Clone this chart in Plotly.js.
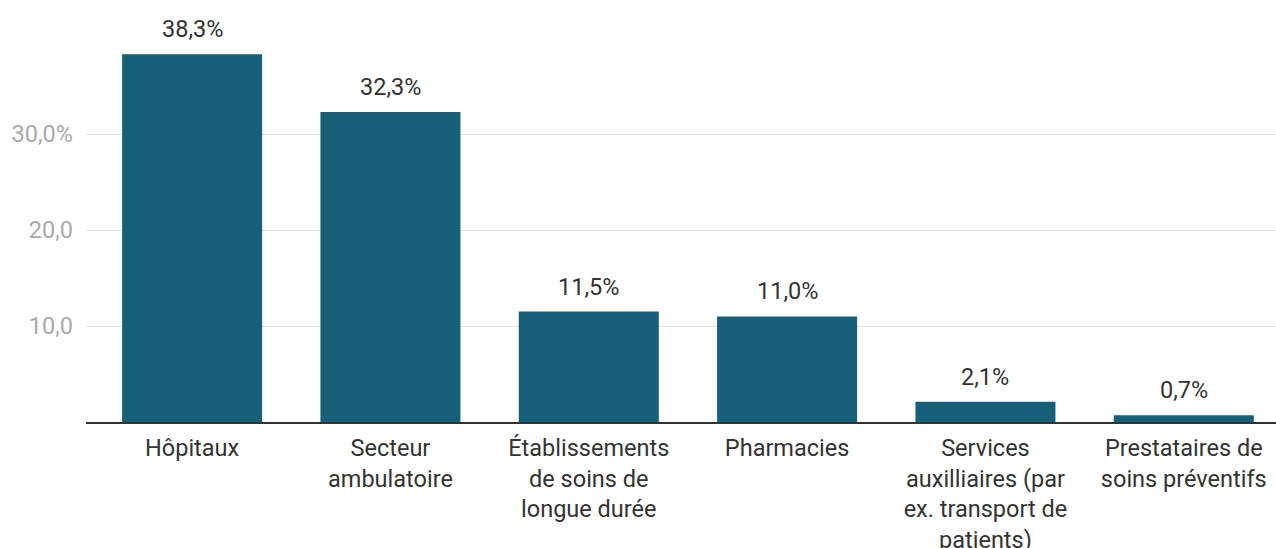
<!DOCTYPE html>
<html>
<head>
<meta charset="utf-8">
<script src="https://cdn.plot.ly/plotly-3.0.1.min.js"></script>
<style>html,body{margin:0;padding:0;background:#fff;}#chart{width:1276px;height:548px;}</style>
</head>
<body>
<div id="chart"></div>
<script>
const categories = [
  "Hôpitaux",
  "Secteur<br>ambulatoire",
  "Établissements<br>de soins de<br>longue durée",
  "Pharmacies",
  "Services<br>auxilliaires (par<br>ex. transport de<br>patients)",
  "Prestataires de<br>soins préventifs"
];
const values = [38.3, 32.3, 11.5, 11.0, 2.1, 0.7];
const valueLabels = ["38,3%", "32,3%", "11,5%", "11,0%", "2,1%", "0,7%"];
const yTickVals = [10, 20, 30];
const yTickText = ["10,0", "20,0", "30,0%"];

const trace = {
  type: "bar",
  x: categories,
  y: values,
  marker: {color: "#17607a"},
  cliponaxis: false,
  hoverinfo: "none"
};

const annotations = categories.map((c, i) => ({
  x: c, y: values[i], xref: "x", yref: "y",
  text: valueLabels[i], showarrow: false,
  yanchor: "bottom", yshift: 9,
  font: {family: "Roboto", size: 23.5, color: "#333333"}
}));

const layout = {
  width: 1276, height: 548,
  margin: {l: 86, r: 0, t: 48, b: 126, pad: 0},
  paper_bgcolor: "#ffffff", plot_bgcolor: "#ffffff",
  bargap: 0.294,
  showlegend: false,
  font: {family: "Roboto", color: "#333333"},
  annotations: annotations,
  xaxis: {
    type: "category",
    range: [-0.535, 5.465],
    showline: true, linecolor: "#333333", linewidth: 2,
    showgrid: false, ticks: "",
    tickfont: {family: "Roboto", size: 23.5, color: "#333333"},
    ticklabelstandoff: 4,
    fixedrange: true
  },
  yaxis: {
    range: [0, 38.96],
    tickvals: yTickVals, ticktext: yTickText,
    tickfont: {family: "Roboto", size: 23.5, color: "#aaaaaa"},
    showgrid: true, gridcolor: "#e3e3e3", gridwidth: 1,
    zeroline: false, showline: false, ticks: "",
    ticklabelstandoff: 12,
    fixedrange: true
  }
};

Plotly.newPlot("chart", [trace], layout, {displayModeBar: false, staticPlot: true});
</script>
</body>
</html>
